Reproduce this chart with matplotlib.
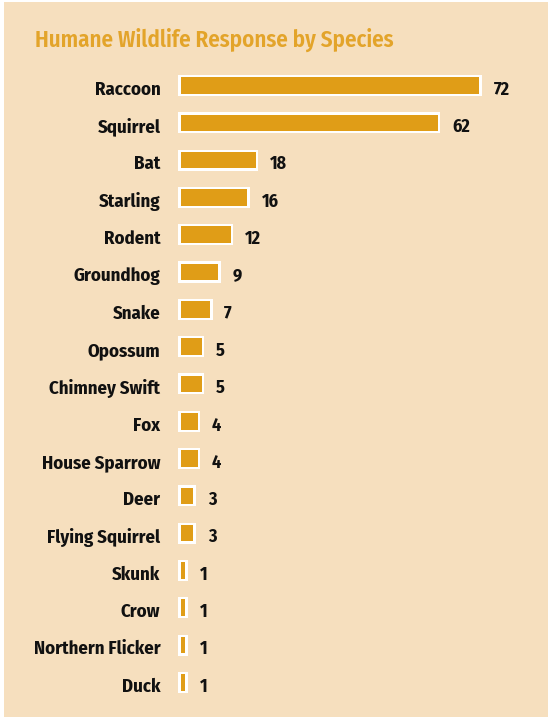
import matplotlib.pyplot as plt
from matplotlib.patches import Rectangle

species = ['Raccoon', 'Squirrel', 'Bat', 'Starling', 'Rodent', 'Groundhog', 'Snake',
           'Opossum', 'Chimney Swift', 'Fox', 'House Sparrow', 'Deer', 'Flying Squirrel',
           'Skunk', 'Crow', 'Northern Flicker', 'Duck']
counts = [72, 62, 18, 16, 12, 9, 7, 5, 5, 4, 4, 3, 3, 1, 1, 1, 1]

plt.rcParams['font.family'] = ['Fira Sans Condensed', 'DejaVu Sans']

bar_color = '#E09D17'
bg_color = '#F6DFBE'

W, H = 548, 719
fig = plt.figure(figsize=(W / 100, H / 100), dpi=100, facecolor='white')
fig.patches.append(Rectangle((4 / W, 2 / H), 544 / W, 715 / H, transform=fig.transFigure,
                             facecolor=bg_color, edgecolor='none', zorder=-10))

# x zero at 181px, 4.14 px per unit
px_per_unit = 4.14
left, right = 181, 548
top, bottom = 66.85, 701
ax = fig.add_axes([left / W, 1 - bottom / H, (right - left) / W, (bottom - top) / H])
ax.set_facecolor('none')
ax.set_xlim(0, (right - left) / px_per_unit)
ax.set_ylim(len(species) - 0.5, -0.5)

ypos = list(range(len(species)))
# white frame drawn outside the gold fill
pad = 2.6 / px_per_unit
frame_w = [v + 2 * pad for v in counts]
frames = ax.barh(ypos, frame_w, left=-pad, height=0.565, color='white', linewidth=0)
for b in frames:
    b.set_clip_on(False)
ax.barh(ypos, counts, height=0.445, color=bar_color, linewidth=0)

for y, v in zip(ypos, counts):
    ax.annotate(str(v), (v, y), xytext=(10.3, -3), textcoords='offset points',
                ha='left', va='center', fontsize=13, fontweight='bold', color='#111111')
for y, name in zip(ypos, species):
    ax.annotate(name, (0, y), xytext=(-14.8, -3), textcoords='offset points',
                ha='right', va='center', fontsize=13.5, fontweight='bold', color='#111111')

ax.set_yticks([])
ax.set_xticks([])
for s in ax.spines.values():
    s.set_visible(False)

fig.text(35 / W, 1 - 40 / H, 'Humane Wildlife Response by Species', ha='left', va='center',
         fontsize=16.5, fontweight='semibold', color='#E3A42A')

fig.savefig('out.png', dpi=100, facecolor='white')
